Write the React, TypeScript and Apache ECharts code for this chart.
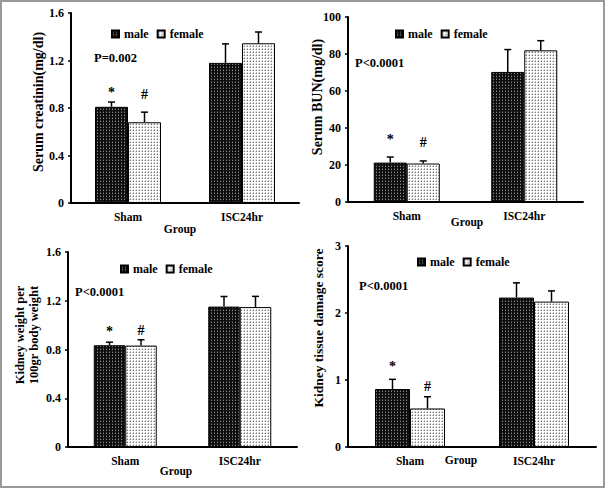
import React, { useEffect, useRef } from 'react';
import * as echarts from 'echarts';

// ---------- data ----------
const categories = ['Sham', 'ISC24hr'];
const seriesNames = ['male', 'female'];

const creatMale = [0.81, 1.18];
const creatMaleSd = [0.04, 0.16];
const creatFemale = [0.68, 1.345];
const creatFemaleSd = [0.085, 0.095];
const creatSig = [0.96, 0.91];

const bunMale = [21.3, 70.3];
const bunMaleSd = [3.0, 12.1];
const bunFemale = [20.8, 82.0];
const bunFemaleSd = [1.4, 5.2];
const bunSig = [35.5, 32.4];

const kwMale = [0.835, 1.152];
const kwMaleSd = [0.025, 0.083];
const kwFemale = [0.832, 1.148];
const kwFemaleSd = [0.048, 0.088];
const kwSig = [0.971, 0.952];

const dmgMale = [0.865, 2.23];
const dmgMaleSd = [0.145, 0.22];
const dmgFemale = [0.575, 2.17];
const dmgFemaleSd = [0.175, 0.16];
const dmgSig = [1.247, 0.897];

const creatAxis = { min: 0, max: 1.6, interval: 0.4 };
const bunAxis = { min: 0, max: 100, interval: 20 };
const kwAxis = { min: 0, max: 1.6, interval: 0.4 };
const dmgAxis = { min: 0, max: 3, interval: 1 };

const pLabels = ['P=0.002', 'P<0.0001', 'P<0.0001', 'P<0.0001'];
const yTitles = [
  'Serum creatinin(mg/dl)',
  'Serum BUN(mg/dl)',
  'Kidney weight per\n100gr body weight',
  'Kidney tissue damage score',
];
const sigSymbols = ['*', '#'];
const groupLabel = 'Group';

// ---------- layout ----------
const FONT = "'Liberation Serif', 'Times New Roman', serif";

const panels = [
  {
    grid: { left: 71, top: 13, width: 228, height: 190 },
    axis: creatAxis, male: creatMale, maleSd: creatMaleSd, female: creatFemale, femaleSd: creatFemaleSd, sig: creatSig,
    barWidth: 33, legend: { left: 111, top: 28 }, p: [94, 58], title: [38, 102], titleSize: 14, group: [180, 229],
  },
  {
    grid: { left: 348, top: 17, width: 235, height: 185 },
    axis: bunAxis, male: bunMale, maleSd: bunMaleSd, female: bunFemale, femaleSd: bunFemaleSd, sig: bunSig,
    barWidth: 33, legend: { left: 395, top: 28 }, p: [355, 63], title: [317, 97], titleSize: 14, group: [467, 222],
  },
  {
    grid: { left: 68, top: 252, width: 229, height: 195 },
    axis: kwAxis, male: kwMale, maleSd: kwMaleSd, female: kwFemale, femaleSd: kwFemaleSd, sig: kwSig,
    barWidth: 31.5, legend: { left: 120, top: 263 }, p: [75, 292], title: [27, 335], titleSize: 12.5, group: [176, 471],
  },
  {
    grid: { left: 348, top: 246, width: 248, height: 201 },
    axis: dmgAxis, male: dmgMale, maleSd: dmgMaleSd, female: dmgFemale, femaleSd: dmgFemaleSd, sig: dmgSig,
    barWidth: 35, legend: { left: 417, top: 256 }, p: [359, 286], title: [318, 328], titleSize: 13.5, group: [461, 460],
  },
];

function makePattern(bg: string, dots: [number, number, string][]) {
  const c = document.createElement('canvas');
  c.width = 3;
  c.height = 3;
  const ctx = c.getContext('2d')!;
  ctx.fillStyle = bg;
  ctx.fillRect(0, 0, 3, 3);
  dots.forEach(([x, y, col]) => {
    ctx.fillStyle = col;
    ctx.fillRect(x, y, 1, 1);
  });
  return { image: c, repeat: 'repeat', imageWidth: 3, imageHeight: 3 } as any;
}

export default function App() {
  const ref = useRef<HTMLDivElement>(null);

  useEffect(() => {
    if (!ref.current) return;
    const chart = echarts.init(ref.current, undefined, { renderer: 'svg' });

    const malePattern = makePattern('#0e0e0e', [[1, 1, '#8a8a8a'], [1, 0, '#3a3a3a']]);
    const femalePattern = makePattern('#ffffff', [[1, 1, '#7a7a7a'], [1, 0, '#c0c0c0'], [0, 1, '#c8c8c8']]);
    const colors = [malePattern, femalePattern];

    const textBase = { fontFamily: FONT, fontWeight: 'bold' as const, color: '#000' };

    const series: any[] = [];
    panels.forEach((p, i) => {
      const means = [p.male, p.female];
      const sds = [p.maleSd, p.femaleSd];
      seriesNames.forEach((name, s) => {
        series.push({
          type: 'bar',
          name,
          xAxisIndex: i,
          yAxisIndex: i,
          barWidth: p.barWidth,
          barGap: '0%',
          data: means[s],
          itemStyle: { color: colors[s], borderColor: '#000', borderWidth: 1 },
          z: 2,
        });
      });
      const errData: number[][] = [];
      seriesNames.forEach((_, s) => {
        categories.forEach((_c, ci) => {
          errData.push([ci, means[s][ci], sds[s][ci], s]);
        });
      });
      const bw = p.barWidth;
      series.push({
        type: 'custom',
        name: 'err' + i,
        xAxisIndex: i,
        yAxisIndex: i,
        encode: { x: 0, y: 1 },
        z: 5,
        data: errData,
        renderItem: (_params: any, api: any) => {
          const ci = api.value(0);
          const mean = api.value(1);
          const sd = api.value(2);
          const s = api.value(3);
          const base = api.coord([ci, mean]);
          const top = api.coord([ci, mean + sd]);
          const x = base[0] + (s === 0 ? -1 : 1) * (bw / 2);
          return {
            type: 'group',
            children: [
              { type: 'line', shape: { x1: x, y1: base[1], x2: x, y2: top[1] }, style: { stroke: '#000', lineWidth: 1.5 } },
              { type: 'line', shape: { x1: x - 3.5, y1: top[1], x2: x + 3.5, y2: top[1] }, style: { stroke: '#000', lineWidth: 1.5 } },
            ],
          };
        },
      });
      series.push({
        type: 'custom',
        name: 'sig' + i,
        xAxisIndex: i,
        yAxisIndex: i,
        encode: { x: 0, y: 1 },
        z: 6,
        data: p.sig.map((v, s) => [0, v, s]),
        renderItem: (_params: any, api: any) => {
          const ci = api.value(0);
          const v = api.value(1);
          const s = api.value(2);
          const pt = api.coord([ci, v]);
          const x = pt[0] + (s === 0 ? -1 : 1) * (bw / 2);
          return {
            type: 'text',
            x,
            y: pt[1] + (s === 0 ? 3 : 0),
            style: {
              text: sigSymbols[s],
              align: 'center',
              verticalAlign: 'middle',
              fontFamily: FONT,
              fontWeight: 'bold',
              fontSize: 14,
              fill: '#000',
            },
          };
        },
      });
    });

    const graphic: any[] = [
      {
        type: 'rect',
        shape: { x: 1, y: 1, width: 603, height: 486 },
        style: { fill: 'none', stroke: '#9a9a9a', lineWidth: 2 },
        silent: true,
      },
    ];
    panels.forEach((p, i) => {
      graphic.push({
        type: 'text',
        x: p.p[0],
        y: p.p[1],
        style: { text: pLabels[i], align: 'left', verticalAlign: 'middle', fontFamily: FONT, fontWeight: 'bold', fontSize: 12.5, fill: '#000' },
      });
      graphic.push({
        type: 'text',
        x: p.title[0],
        y: p.title[1],
        rotation: Math.PI / 2,
        style: {
          text: yTitles[i],
          align: 'center',
          verticalAlign: 'middle',
          fontFamily: FONT,
          fontWeight: 'bold',
          fontSize: p.titleSize,
          lineHeight: 13.5,
          fill: '#000',
        },
      });
      graphic.push({
        type: 'text',
        x: p.group[0],
        y: p.group[1],
        style: { text: groupLabel, align: 'center', verticalAlign: 'middle', fontFamily: FONT, fontWeight: 'bold', fontSize: 11.5, fill: '#000' },
      });
    });

    chart.setOption({
      animation: false,
      backgroundColor: '#fff',
      grid: panels.map((p) => ({ ...p.grid, containLabel: false })),
      xAxis: panels.map((_p, i) => ({
        type: 'category',
        gridIndex: i,
        data: categories,
        axisLine: { lineStyle: { color: '#000', width: 2 } },
        axisTick: { show: false },
        axisLabel: { ...textBase, fontSize: 11.5, margin: 8 },
      })),
      yAxis: panels.map((p, i) => ({
        type: 'value',
        gridIndex: i,
        min: p.axis.min,
        max: p.axis.max,
        interval: p.axis.interval,
        splitLine: { show: false },
        axisLine: { show: true, lineStyle: { color: '#000', width: 2 } },
        axisTick: { show: true, length: 3, lineStyle: { color: '#000', width: 1.5 } },
        axisLabel: { ...textBase, fontSize: 12, margin: 7 },
      })),
      legend: panels.map((p) => ({
        data: seriesNames,
        left: p.legend.left,
        top: p.legend.top,
        orient: 'horizontal',
        icon: 'rect',
        itemWidth: 7,
        itemHeight: 7,
        itemGap: 8,
        padding: 0,
        selectedMode: false,
        textStyle: { ...textBase, fontSize: 12 },
      })),
      series,
      graphic,
    });

    return () => {
      chart.dispose();
    };
  }, []);

  return <div ref={ref} style={{ position: 'absolute', left: 0, top: 0, width: 605, height: 488 }} />;
}
